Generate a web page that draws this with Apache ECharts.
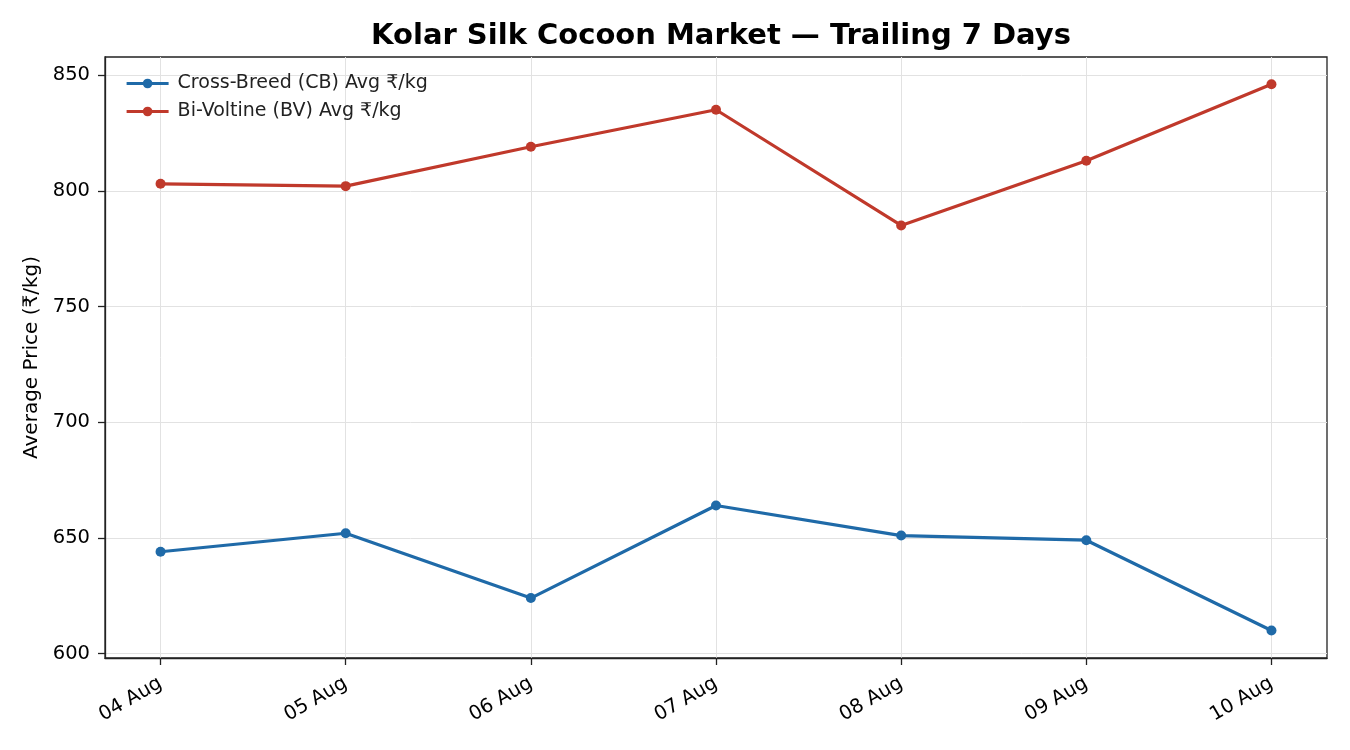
<!DOCTYPE html>
<html>
<head>
<meta charset="utf-8">
<script src="https://cdn.jsdelivr.net/npm/echarts@6/dist/echarts.min.js"></script>
<style>html,body{margin:0;padding:0;background:#fff}#c{width:1350px;height:750px}</style>
</head>
<body>
<div id="c"></div>
<script>
var categories = ['04 Aug','05 Aug','06 Aug','07 Aug','08 Aug','09 Aug','10 Aug'];
var cbValues = [644, 652, 624, 664, 651, 649, 610];
var bvValues = [803, 802, 819, 835, 785, 813, 846];
var yTicks = [600, 650, 700, 750, 800, 850];
var seriesNames = ['Cross-Breed (CB) Avg ₹/kg', 'Bi-Voltine (BV) Avg ₹/kg'];

var xIdx = categories.map(function(_, i){ return i; });
function pairs(vals){ return vals.map(function(v,i){ return [i, v]; }); }

var chart = echarts.init(document.getElementById('c'), null, {renderer:'canvas'});
var font = 'DejaVu Sans';
chart.setOption({
  backgroundColor: '#fff',
  animation: false,
  textStyle: {fontFamily: font},
  title: {
    text: 'Kolar Silk Cocoon Market — Trailing 7 Days',
    left: 716, top: 17, textAlign: 'center',
    textStyle: {fontFamily: font, fontSize: 29, fontWeight: 'bold', color: '#000'}
  },
  legend: {
    left: 120, top: 69, orient: 'vertical', itemGap: 9,
    itemWidth: 42, itemHeight: 12,
    lineStyle: {width: 3.2},
    textStyle: {fontFamily: font, fontSize: 19, color: '#222', padding: [0,0,0,4]},
    data: seriesNames.map(function(n){ return {name: n}; })
  },
  grid: {left: 105, right: 23, top: 57, bottom: 92, show: true, borderColor: '#222', borderWidth: 1.3, backgroundColor: 'transparent'},
  xAxis: {
    type: 'value', min: -0.3, max: 6.3,
    axisLine: {show: true, onZero: false, lineStyle: {color: '#222', width: 1.3}},
    axisTick: {show: true, customValues: xIdx, length: 7, lineStyle: {color: '#222', width: 1.3}},
    axisLabel: {customValues: xIdx, rotate: 30, fontSize: 19.5, color: '#000', fontFamily: font, margin: 24,
      formatter: function(v){ return categories[Math.round(v)] || ''; }},
    splitLine: {show: true, lineStyle: {color: '#e2e2e2', width: 1}}
  },
  yAxis: {
    type: 'value', min: 598.1, max: 857.8,
    name: 'Average Price (₹/kg)', nameLocation: 'middle', nameGap: 62,
    nameTextStyle: {fontFamily: font, fontSize: 20, color: '#000'},
    axisLine: {show: true, onZero: false, lineStyle: {color: '#222', width: 1.3}},
    axisTick: {show: true, customValues: yTicks, length: 7, lineStyle: {color: '#222', width: 1.3}},
    axisLabel: {customValues: yTicks, fontSize: 19.5, color: '#000', fontFamily: font, margin: 15},
    splitLine: {show: true, lineStyle: {color: '#e2e2e2', width: 1}}
  },
  series: [
    {name: seriesNames[0], type: 'line', data: pairs(cbValues), color: '#1f6aa8',
     symbol: 'circle', symbolSize: 10, lineStyle: {width: 3.2}, itemStyle: {color: '#1f6aa8'}},
    {name: seriesNames[1], type: 'line', data: pairs(bvValues), color: '#c0392b',
     symbol: 'circle', symbolSize: 10, lineStyle: {width: 3.2}, itemStyle: {color: '#c0392b'}}
  ]
});
</script>
</body>
</html>
